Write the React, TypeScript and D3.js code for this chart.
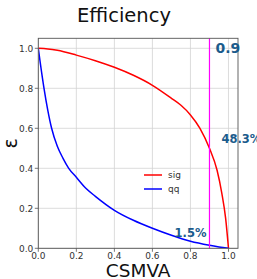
import * as React from "react";
import * as d3 from "d3";

// values
const sigX = [0, 0.05, 0.1, 0.2, 0.3, 0.4, 0.5, 0.6, 0.7, 0.75, 0.8, 0.85, 0.9, 0.94, 0.965, 0.985, 1.0];
const sigY = [1.0, 0.997, 0.99, 0.966, 0.938, 0.905, 0.865, 0.815, 0.75, 0.715, 0.667, 0.6, 0.5, 0.39, 0.275, 0.15, 0];
const qqX = [0, 0.01, 0.03, 0.05, 0.07, 0.1, 0.13, 0.16, 0.2, 0.25, 0.3, 0.4, 0.5, 0.6, 0.7, 0.8, 0.9, 0.95, 1.0];
const qqY = [1.0, 0.93, 0.8, 0.69, 0.6, 0.51, 0.45, 0.4, 0.355, 0.3, 0.26, 0.19, 0.14, 0.1, 0.065, 0.035, 0.015, 0.007, 0];
const xTicks = [0, 0.2, 0.4, 0.6, 0.8, 1.0];
const yTicks = [0, 0.2, 0.4, 0.6, 0.8, 1.0];
const cut = 0.9;
const sigLabel = "48.3%";
const qqLabel = "1.5%";
const legendItems = [
  { name: "sig", color: "#ff0000" },
  { name: "qq", color: "#0000ff" },
];

const W = 257;
const H = 279;
const left = 38.3, right = 238, top = 38.3, bottom = 248.3;
const font = "DejaVu Sans, sans-serif";
const annColor = "#1b5b8c";

export default function App() {
  const x = d3.scaleLinear().domain([0, 1.05]).range([left, right]);
  const y = d3.scaleLinear().domain([0, 1.05]).range([bottom, top]);
  const line = d3.line<[number, number]>()
    .x(d => x(d[0]))
    .y(d => y(d[1]))
    .curve(d3.curveMonotoneX);
  const sigPts = sigX.map((v, i) => [v, sigY[i]] as [number, number]);
  const qqPts = qqX.map((v, i) => [v, qqY[i]] as [number, number]);

  return (
    <svg width={W} height={H} style={{ position: "absolute", left: 0, top: 0 }} fontFamily={font}>
      <rect width={W} height={H} fill="#fff" />
      <text x={124} y={22} fontSize={19.5} textAnchor="middle" fill="#111">Efficiency</text>
      {xTicks.map(t => (
        <line key={"gx" + t} x1={x(t)} x2={x(t)} y1={top} y2={bottom} stroke="#d3d3d3" strokeWidth={0.8} />
      ))}
      {yTicks.map(t => (
        <line key={"gy" + t} x1={left} x2={right} y1={y(t)} y2={y(t)} stroke="#d3d3d3" strokeWidth={0.8} />
      ))}
      <defs>
        <clipPath id="plot">
          <rect x={left} y={top} width={right - left} height={bottom - top} />
        </clipPath>
      </defs>
      <g clipPath="url(#plot)">
        <path d={line(sigPts) ?? ""} fill="none" stroke="#ff0000" strokeWidth={1.5} />
        <path d={line(qqPts) ?? ""} fill="none" stroke="#0000ff" strokeWidth={1.5} />
      </g>
      <line x1={x(cut)} x2={x(cut)} y1={top} y2={bottom} stroke="#ff00ff" strokeWidth={1.2} />
      <rect x={left} y={top} width={right - left} height={bottom - top} fill="none" stroke="#555" strokeWidth={0.9} />
      {xTicks.map(t => (
        <g key={"tx" + t}>
          <line x1={x(t)} x2={x(t)} y1={bottom} y2={bottom + 3.5} stroke="#555" strokeWidth={0.8} />
          <text x={x(t)} y={bottom + 10.5} fontSize={9} textAnchor="middle" fill="#333">{t.toFixed(1)}</text>
        </g>
      ))}
      {yTicks.map(t => (
        <g key={"ty" + t}>
          <line x1={left - 3.5} x2={left} y1={y(t)} y2={y(t)} stroke="#555" strokeWidth={0.8} />
          <text x={left - 5} y={y(t) + 3.2} fontSize={9} textAnchor="end" fill="#333">{t.toFixed(1)}</text>
        </g>
      ))}
      <text x={(left + right) / 2} y={276.5} fontSize={18.5} textAnchor="middle" fill="#111">CSMVA</text>
      <text transform={`translate(17,${(top + bottom) / 2}) rotate(-90)`} fontSize={19} textAnchor="middle" fill="#111">ε</text>
      <text x={x(cut) + 6} y={53} fontSize={14} fontWeight="bold" fill={annColor}>{cut.toFixed(1)}</text>
      <text x={x(cut) + 12} y={143} fontSize={11.5} fontWeight="bold" fill={annColor}>{sigLabel}</text>
      <text x={x(cut) - 3} y={237} fontSize={11.5} fontWeight="bold" fill={annColor} textAnchor="end">{qqLabel}</text>
      {legendItems.map((d, i) => (
        <g key={d.name} transform={`translate(144,${175 + i * 14})`}>
          <line x1={0} x2={18} y1={0} y2={0} stroke={d.color} strokeWidth={1.5} />
          <text x={24} y={3.2} fontSize={9} fill="#333">{d.name}</text>
        </g>
      ))}
    </svg>
  );
}
